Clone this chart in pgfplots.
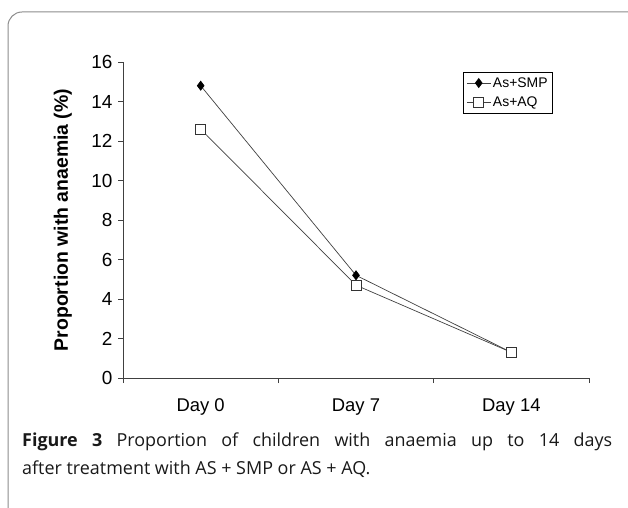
\documentclass[border=0pt]{standalone}
\usepackage{pgfplots}
\pgfplotsset{compat=1.18}
\usepackage{fontspec}
\setmainfont{Liberation Sans}
\newfontfamily\capfont{Open Sans}
\begin{document}
\begin{tikzpicture}[x=1bp,y=1bp]
\useasboundingbox (0,0) rectangle (628,-508);
\draw[black!45, line width=1bp] (8,-512) -- (8,-26) arc[start angle=180,end angle=90,radius=14] -- (632,-12);
\begin{axis}[
  at={(123bp,-378bp)}, anchor=south west,
  scale only axis, width=466bp, height=316bp,
  xmin=-0.5, xmax=2.5, ymin=0, ymax=16,
  axis x line*=bottom, axis y line*=left,
  axis line style={black!75, line width=0.8bp},
  xtick={0,1,2}, xticklabels={Day 0,Day 7,Day 14},
  minor xtick={-0.5,0.5,1.5,2.5},
  ytick={0,2,...,16},
  tick align=outside, major tick length=5bp, minor tick length=5bp,
  major x tick style={draw=none},
  minor x tick style={black!75, line width=0.8bp},
  y tick style={black!75, line width=0.8bp},
  yticklabel style={font=\fontsize{19}{21}\selectfont, xshift=-2bp},
  xticklabel style={font=\fontsize{18.5}{21}\selectfont, yshift=-12bp},
  /pgf/number format/assume math mode=true,
  ylabel={\textbf{Proportion with anaemia (\%)}},
  ylabel style={font=\fontsize{19.5}{21}\selectfont, at={(axis description cs:-0.129,0.5)}, anchor=center},
  legend style={at={(0.73,0.968)}, anchor=north west, draw=black, line width=0.6bp,
    font=\fontsize{14}{16}\selectfont, inner sep=3bp, row sep=4bp,
    /tikz/every even column/.append style={column sep=1bp}},
  legend cell align=left,
  legend image code/.code={
    \draw[mark repeat=2, mark phase=2] plot coordinates {(0cm,0cm) (0.42cm,0cm) (0.84cm,0cm)};},
]
\addplot[black!75, line width=0.7bp, mark=diamond*, mark size=4.5bp,
  mark options={solid, fill=black, draw=black}] coordinates {(0,14.8) (1,5.2) (2,1.3)};
\addlegendentry{As+SMP}
\addplot[black!75, line width=0.7bp, mark=square*, mark size=5bp,
  mark options={solid, fill=white, draw=black!80}] coordinates {(0,12.6) (1,4.7) (2,1.3)};
\addlegendentry{As+AQ}
\end{axis}
\begin{scope}[black!90]
\node[anchor=base west, inner sep=0] at (22,-446) {\capfont\fontsize{18}{21}\selectfont\makebox[590bp][s]{\textbf{Figure 3} Proportion of children with anaemia up to 14 days}};
\node[anchor=base west, inner sep=0] at (22,-474) {\capfont\fontsize{18}{21}\selectfont after treatment with AS + SMP or AS + AQ.};
\end{scope}
\end{tikzpicture}
\end{document}
